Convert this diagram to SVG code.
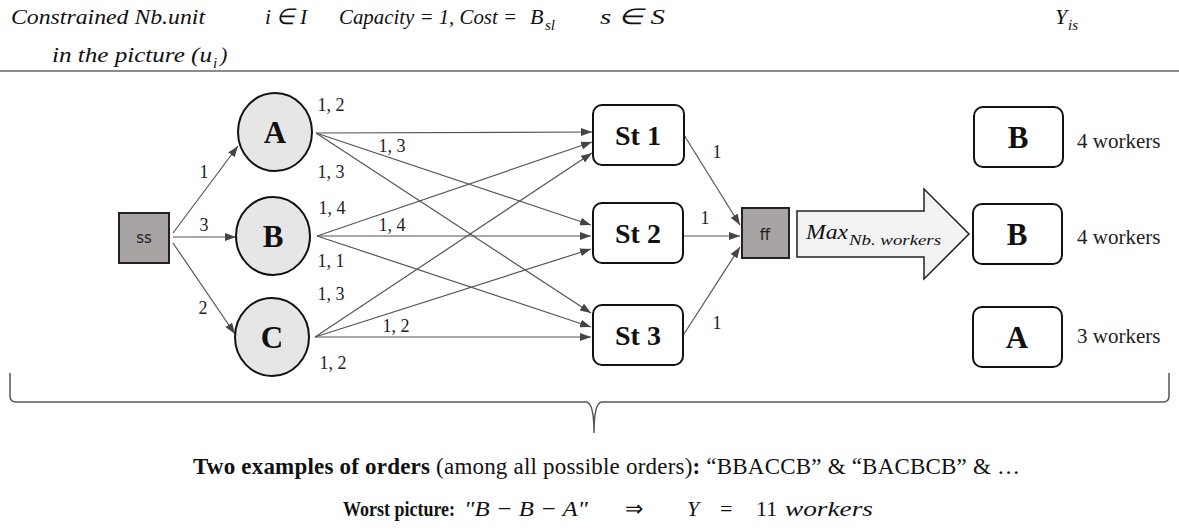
<svg xmlns="http://www.w3.org/2000/svg" width="1179" height="530" viewBox="0 0 1179 530">
<style>
.math{font-family:"Liberation Serif","Times New Roman",serif;font-style:italic;font-size:22px;fill:#111;white-space:pre}
.up{font-style:normal}
.sub{font-family:"Liberation Serif","Times New Roman",serif;font-style:italic;font-size:15px;fill:#111}
.lbl{font-family:"Liberation Serif","Times New Roman",serif;font-size:18px;fill:#222;text-anchor:middle}
.big{font-family:"Liberation Serif","Times New Roman",serif;font-weight:bold;font-size:31px;fill:#111;text-anchor:middle}
.st{font-family:"Liberation Serif","Times New Roman",serif;font-weight:bold;font-size:28px;fill:#111;text-anchor:middle}
.sq{fill:#a8a4a4;stroke:#222;stroke-width:2}
.sqt{font-family:"DejaVu Sans",sans-serif;font-size:15px;fill:#222;text-anchor:middle}
.circ{fill:#e6e6e6;stroke:#111;stroke-width:2}
.box{fill:#fff;stroke:#111;stroke-width:2}
.wk{font-family:"Liberation Serif","Times New Roman",serif;font-size:21px;fill:#222}
.edge{stroke:#555;stroke-width:1.2;fill:none;marker-end:url(#ah)}
.bot{font-family:"Liberation Serif","Times New Roman",serif;font-size:23px;fill:#111}
.worst{font-family:"Liberation Serif","Times New Roman",serif;font-size:20px;font-weight:bold;fill:#111}
</style>
<defs>
<marker id="ah" markerUnits="userSpaceOnUse" markerWidth="11" markerHeight="8" refX="11" refY="4" orient="auto">
<path d="M0,0 L11,4 L0,8 z" fill="#444"/>
</marker>
</defs>

<g id="header">
<text class="math" x="11" y="24" textLength="194" lengthAdjust="spacingAndGlyphs">Constrained Nb.unit</text>
<text class="math" x="265" y="24" textLength="42" lengthAdjust="spacingAndGlyphs">i ∈ I</text>
<text class="math" x="339" y="24" textLength="178" lengthAdjust="spacingAndGlyphs">Capacity = 1, Cost =</text>
<text class="math" x="530" y="24">B</text>
<text class="sub" x="545" y="30">sl</text>
<text class="math" x="600" y="24" textLength="65" lengthAdjust="spacingAndGlyphs">s ∈ S</text>
<text class="math" x="1055" y="24">Y</text>
<text class="sub" x="1068" y="30">is</text>
<text class="math" x="52" y="62" textLength="160" lengthAdjust="spacingAndGlyphs">in the picture (u</text>
<text class="sub" x="213" y="68">i</text>
<text class="math" x="220" y="62">)</text>
<line x1="0" y1="71" x2="1179" y2="71" stroke="#666" stroke-width="1.5"/>
</g>

<g id="connectors">
<line class="edge" x1="173" y1="233" x2="238" y2="146"/>
<line class="edge" x1="173" y1="237" x2="236" y2="237"/>
<line class="edge" x1="173" y1="243" x2="235" y2="334"/>
<line class="edge" x1="316" y1="133" x2="592" y2="132"/>
<line class="edge" x1="316" y1="133" x2="591" y2="225"/>
<line class="edge" x1="316" y1="133" x2="591" y2="313"/>
<line class="edge" x1="317" y1="236" x2="592" y2="142"/>
<line class="edge" x1="317" y1="236" x2="591" y2="236"/>
<line class="edge" x1="317" y1="236" x2="591" y2="327"/>
<line class="edge" x1="315" y1="337" x2="592" y2="153"/>
<line class="edge" x1="315" y1="337" x2="591" y2="249"/>
<line class="edge" x1="315" y1="337" x2="591" y2="337"/>
<line class="edge" x1="684" y1="135" x2="740" y2="225"/>
<line class="edge" x1="684" y1="236" x2="740" y2="236"/>
<line class="edge" x1="684" y1="334" x2="740" y2="247"/>
<text class="lbl" x="204" y="178">1</text>
<text class="lbl" x="204" y="231">3</text>
<text class="lbl" x="203" y="314">2</text>
<text class="lbl" x="331" y="111">1, 2</text>
<text class="lbl" x="392" y="152">1, 3</text>
<text class="lbl" x="331" y="178">1, 3</text>
<text class="lbl" x="332" y="214">1, 4</text>
<text class="lbl" x="392" y="231">1, 4</text>
<text class="lbl" x="331" y="267">1, 1</text>
<text class="lbl" x="331" y="300">1, 3</text>
<text class="lbl" x="396" y="332">1, 2</text>
<text class="lbl" x="333" y="369">1, 2</text>
<text class="lbl" x="717" y="158">1</text>
<text class="lbl" x="705" y="224">1</text>
<text class="lbl" x="717" y="329">1</text>
</g>

<g id="ss"><rect class="sq" x="119" y="213" width="50" height="50"/><text class="sqt" x="144" y="243">ss</text></g>
<g id="nodeA"><ellipse class="circ" cx="275" cy="132" rx="37" ry="39"/><text class="big" x="275" y="143">A</text></g>
<g id="nodeB"><ellipse class="circ" cx="273" cy="236" rx="37" ry="39"/><text class="big" x="273" y="247">B</text></g>
<g id="nodeC"><ellipse class="circ" cx="272" cy="337" rx="37" ry="39"/><text class="big" x="272" y="348">C</text></g>
<g id="st1"><rect class="box" x="593" y="105" width="91" height="60" rx="9"/><text class="st" x="638" y="145">St 1</text></g>
<g id="st2"><rect class="box" x="593" y="203" width="90" height="60" rx="9"/><text class="st" x="638" y="243">St 2</text></g>
<g id="st3"><rect class="box" x="593" y="305" width="90" height="60" rx="9"/><text class="st" x="638" y="345">St 3</text></g>
<g id="ff"><rect class="sq" x="742" y="208" width="47" height="50"/><text class="sqt" x="765" y="240">ff</text></g>

<g id="maxArrow">
<polygon points="797,211 924,211 924,189 969,234 924,279 924,257 797,257" fill="#f2f2f2" stroke="#222" stroke-width="1.5"/>
<text class="math" x="806" y="239" textLength="42" lengthAdjust="spacingAndGlyphs">Max</text>
<text class="sub" x="849" y="245" textLength="92" lengthAdjust="spacingAndGlyphs">Nb. workers</text>
</g>

<g id="res1"><rect class="box" x="974" y="107" width="89" height="60" rx="9"/><text class="big" x="1018" y="148">B</text></g>
<g id="res2"><rect class="box" x="973" y="204" width="89" height="60" rx="9"/><text class="big" x="1017" y="245">B</text></g>
<g id="res3"><rect class="box" x="973" y="307" width="89" height="60" rx="9"/><text class="big" x="1017" y="348">A</text></g>
<text class="wk" x="1077" y="148">4 workers</text>
<text class="wk" x="1077" y="244">4 workers</text>
<text class="wk" x="1077" y="343">3 workers</text>

<g id="brace">
<path d="M10,373 L10,396 Q10,402 16,402 L586,402 Q594,402 594,433 Q594,402 602,402 L1163,402 Q1169,402 1169,396 L1169,373" fill="none" stroke="#555" stroke-width="1.5"/>
</g>

<g id="footer">
<text class="bot" x="193" y="474" textLength="827" lengthAdjust="spacing"><tspan font-weight="bold">Two examples of orders</tspan> (among all possible orders)<tspan font-weight="bold">:</tspan> “BBACCB” &amp; “BACBCB” &amp; …</text>
<text class="worst" x="343" y="516" textLength="112" lengthAdjust="spacingAndGlyphs">Worst picture:</text>
<text class="math" x="464" y="516" textLength="124" lengthAdjust="spacingAndGlyphs">"B − B − A"</text>
<text class="math up" x="625" y="516">⇒</text>
<text class="math" x="687" y="516">Y</text>
<text class="math up" x="720" y="516">=</text>
<text class="math up" x="756" y="516">11</text>
<text class="math" x="785" y="516" textLength="88" lengthAdjust="spacingAndGlyphs">workers</text>
</g>
</svg>
